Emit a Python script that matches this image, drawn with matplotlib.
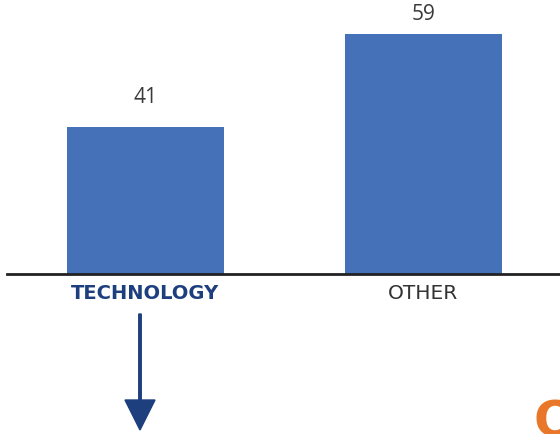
import matplotlib
matplotlib.use("Agg")
import matplotlib.pyplot as plt
from matplotlib.patches import FancyArrow

# data
categories = ["TECHNOLOGY", "OTHER"]
values = [41, 59]

BAR_COLOR = "#4571B9"
DARK_BLUE = "#1E3F7E"

# distance from bar top to label centre, in points
label_offsets = [21, 14]

plt.rcParams["font.family"] = ["DejaVu Sans"]

fig = plt.figure(figsize=(5.6, 4.34), dpi=100)
ax = fig.add_axes([7 / 560, 160 / 434, 553 / 560, 274 / 434])

x = list(range(len(categories)))
ax.bar(x, values, width=0.565, color=BAR_COLOR, zorder=2)

for xi, v, off in zip(x, values, label_offsets):
    ax.annotate(str(v), (xi, v), xytext=(0, off), textcoords="offset points",
                ha="center", va="center", fontsize=15, color="#3a3a3a",
                family=["Open Sans", "DejaVu Sans"])

ax.set_xlim(-0.498, 1.491)
ax.set_ylim(12.5, 65.6)

for s in ["top", "right", "left"]:
    ax.spines[s].set_visible(False)
ax.spines["bottom"].set_linewidth(2)
ax.spines["bottom"].set_color("#222222")
ax.set_yticks([])
ax.set_xticks(x)
ax.set_xticklabels(categories)
ax.tick_params(axis="x", length=0, pad=7)
labels = ax.get_xticklabels()
labels[0].set_color(DARK_BLUE)
labels[0].set_fontweight("bold")
labels[0].set_fontsize(14)
labels[1].set_color("#333333")
labels[1].set_fontsize(14.5)

# arrow under the highlighted category
arrow = FancyArrow(1.40, 1.20, 0, -1.16, width=0.025, head_width=0.30,
                   head_length=0.30, length_includes_head=True,
                   color=DARK_BLUE, transform=fig.dpi_scale_trans)
fig.patches.append(arrow)

# logo fragment, cut by the figure edge
fig.text(5.33, 0.36, "Q", transform=fig.dpi_scale_trans, fontsize=36,
         fontweight="bold", color="#E8772A", ha="left", va="top")

fig.savefig("out.png", dpi=100)
